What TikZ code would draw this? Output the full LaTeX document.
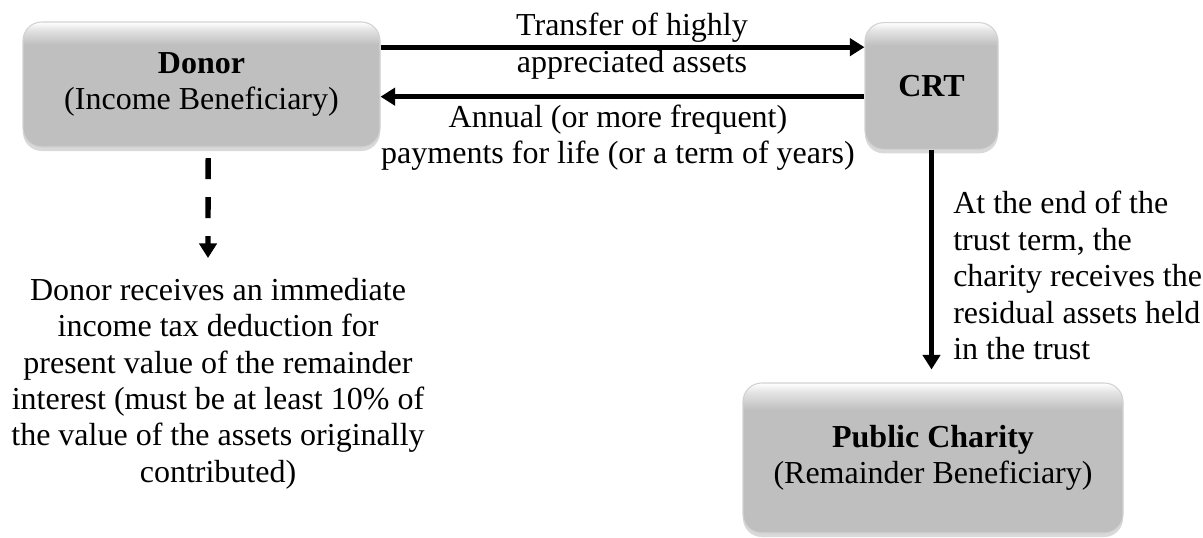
\documentclass[tikz,border=0pt]{standalone}
\usepackage{fontspec}
\setmainfont{Liberation Serif}
\usepackage{tikz}
\usetikzlibrary{positioning,arrows.meta,shadows}
\usepackage{xcolor}
\definecolor{boxgray}{HTML}{BFBFBF}
\definecolor{boxlight}{HTML}{E4E4E4}
\definecolor{boxedge}{HTML}{D2D2D2}

\pgfdeclareverticalshading{boxshade}{100bp}{color(0bp)=(boxgray); color(25bp)=(boxgray); color(66bp)=(boxgray); color(72bp)=(boxlight); color(75bp)=(white); color(100bp)=(white)}

\tikzset{
  entity/.style={rounded corners=14pt, draw=boxedge, line width=0.8pt, shading=boxshade,
    drop shadow={shadow xshift=0pt, shadow yshift=-3pt, opacity=0.3},
    align=center, inner sep=0pt, font=\fontsize{24}{27}\selectfont},
  note/.style={align=center, inner sep=0pt, font=\fontsize{24}{27.3}\selectfont},
  flow/.style={-{Triangle[length=11pt,width=13pt]}, line width=3.5pt},
}

\begin{document}
\begin{tikzpicture}[x=0.75pt, y=-0.75pt]
    \useasboundingbox (0,0) rectangle (1203,537);

    % Riquadri
    \node[entity, minimum width=267.75pt, minimum height=93.75pt] (donor) at (201.5,84.5) {\textbf{Donor}\\(Income Beneficiary)};
    \node[entity, minimum width=99.75pt, minimum height=95pt] (crt) at (931.5,86) {\textbf{CRT}};
    \node[entity, minimum width=285pt, minimum height=112.5pt] (charity) at (933,458) {\textbf{Public Charity}\\(Remainder Beneficiary)};

    % Frecce tra donatore e trust
    \draw[flow] ([yshift=28pt]donor.east) -- ([yshift=28pt]donor.east -| crt.west);
    \draw[flow] ([yshift=-8pt]crt.west) -- ([yshift=-8pt]crt.west -| donor.east);
    \node[note] (xfer) at (632,46) {Transfer of highly\\appreciated assets};
    \node[note] (pay) at (618,137.5) {Annual (or more frequent)\\payments for life (or a term of years)};

    % Residuo alla charity
    \draw[flow, shorten >=9.75pt] (crt.south) -- (crt.south |- charity.north);
    \node[note, align=left, anchor=north west] (residual) at (953,191) {At the end of the\\trust term, the\\charity receives the\\residual assets held\\in the trust};

    % Deduzione fiscale
    \coordinate (taxend) at (208,258);
    \draw[flow, line width=4pt, dash pattern=on 15.75pt off 13.5pt] ([xshift=5pt, yshift=-8pt]donor.south) -- (taxend);
    \node[note] (deduct) at (218,383.5) {Donor receives an immediate\\income tax deduction for\\present value of the remainder\\interest (must be at least 10\% of\\the value of the assets originally\\contributed)};
\end{tikzpicture}
\end{document}
